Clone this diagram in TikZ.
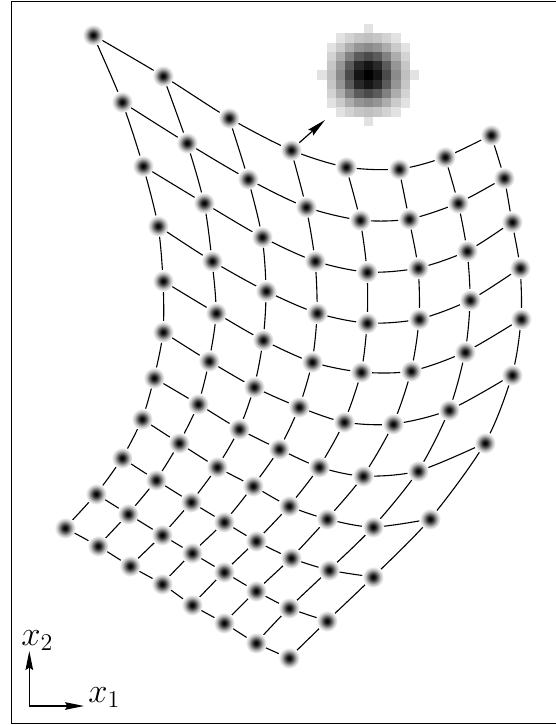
\documentclass[tikz,border=0pt]{standalone}
\usepackage{amsmath}
\usepackage{tikz}
\usetikzlibrary{arrows.meta}
\pgfdeclareradialshading{blurdot}{\pgfpoint{0bp}{0bp}}{color(0bp)=(black); color(5bp)=(black!90); color(11bp)=(black!58); color(17bp)=(black!24); color(24bp)=(white); color(50bp)=(white)}

\begin{document}
\begin{tikzpicture}[x=0.5pt,y=-0.5pt,
    mesh/.style={line width=0.55pt},
    axarrow/.style={-{Stealth[length=9.5pt,width=3.8pt,inset=1.2pt]},line width=0.6pt},
    axlabel/.style={anchor=base west,inner sep=0pt,font=\LARGE}]
    \useasboundingbox (0,0) rectangle (556,725);
    \draw[line width=0.6pt] (556,1.8) -- (11.3,1.8) -- (11.3,723.5) -- (556,723.5);
    % sample positions, row by row
    \foreach \x/\y [count=\cl from 0] in {93/35,163/76,229/118,291/150,346/167,399/169,445/157,491/135}
      \coordinate (p-0-\cl) at (\x,\y);
    \foreach \x/\y [count=\cl from 0] in {122/102,187/143,248/179,306/207,360/220,409/219,458/203,504/178}
      \coordinate (p-1-\cl) at (\x,\y);
    \foreach \x/\y [count=\cl from 0] in {143/166,204/203,262/237,315/261,367/272,418/268,467/251,512/222}
      \coordinate (p-2-\cl) at (\x,\y);
    \foreach \x/\y [count=\cl from 0] in {158/226,212/261,266/291,317/313,367/323,419/319,470/300,520/268}
      \coordinate (p-3-\cl) at (\x,\y);
    \foreach \x/\y [count=\cl from 0] in {163/281,216/313,263/340,312/362,361/372,411/371,465/352,521/319}
      \coordinate (p-4-\cl) at (\x,\y);
    \foreach \x/\y [count=\cl from 0] in {163/332,209/361,254/387,299/407,344/422,393/424,449/410,512/375}
      \coordinate (p-5-\cl) at (\x,\y);
    \foreach \x/\y [count=\cl from 0] in {154/378,198/404,239/429,279/449,319/467,363/476,418/471,485/443}
      \coordinate (p-6-\cl) at (\x,\y);
    \foreach \x/\y [count=\cl from 0] in {142/419,179/443,217/467,253/486,289/506,327/519,373/527,430/519}
      \coordinate (p-7-\cl) at (\x,\y);
    \foreach \x/\y [count=\cl from 0] in {122/458,156/480,191/502,224/522,256/541,291/558,329/570,373/577}
      \coordinate (p-8-\cl) at (\x,\y);
    \foreach \x/\y [count=\cl from 0] in {96/494,128/514,162/535,192/553,224/572,256/591,289/608,327/621}
      \coordinate (p-9-\cl) at (\x,\y);
    \foreach \x/\y [count=\cl from 0] in {65/528,98/546,130/566,162/584,192/605,224/623,256/643,289/658}
      \coordinate (p-10-\cl) at (\x,\y);
    % mesh lines
    \foreach \rw in {0,...,10} {
      \xdef\pts{}
      \foreach \cl in {0,...,7} {\xdef\pts{\pts (p-\rw-\cl)}}
      \edef\tmp{\noexpand\draw[mesh] plot[smooth] coordinates {\pts};}\tmp
    }
    \foreach \cl in {0,...,7} {
      \xdef\pts{}
      \foreach \rw in {0,...,10} {\xdef\pts{\pts (p-\rw-\cl)}}
      \edef\tmp{\noexpand\draw[mesh] plot[smooth] coordinates {\pts};}\tmp
    }
    % pixel kernel
    \foreach \i in {-5,...,5} {
      \foreach \j in {-5,...,5} {
        \pgfmathtruncatemacro\rr{\i*\i+\j*\j}
        \ifnum\rr<26
          \pgfmathsetmacro\dk{100*exp(-\rr/11.4)}
          \fill[black!\dk] (368.3+9.25*\i-4.625,75+9.25*\j-4.625) rectangle ++(9.4,9.4);
        \fi
      }
    }
    \coordinate (blobtip) at (325,120);
    \draw[axarrow] (p-0-3) -- (blobtip);
    % blurred samples
    \foreach \rw in {0,...,10}
      \foreach \cl in {0,...,7}
        \shade[shading=blurdot] (p-\rw-\cl) circle (5.5pt);
    % axes
    \coordinate (orig) at (29.3,706);
    \coordinate (e1) at (84,706);
    \coordinate (e2) at (29.3,651);
    \draw[axarrow] (orig) -- (e1);
    \draw[axarrow] (orig) -- (e2);
    \node[axlabel] (lab1) at (88,702) {$x_1$};
    \node[axlabel] (lab2) at (21,645) {$x_2$};
\end{tikzpicture}
\end{document}
